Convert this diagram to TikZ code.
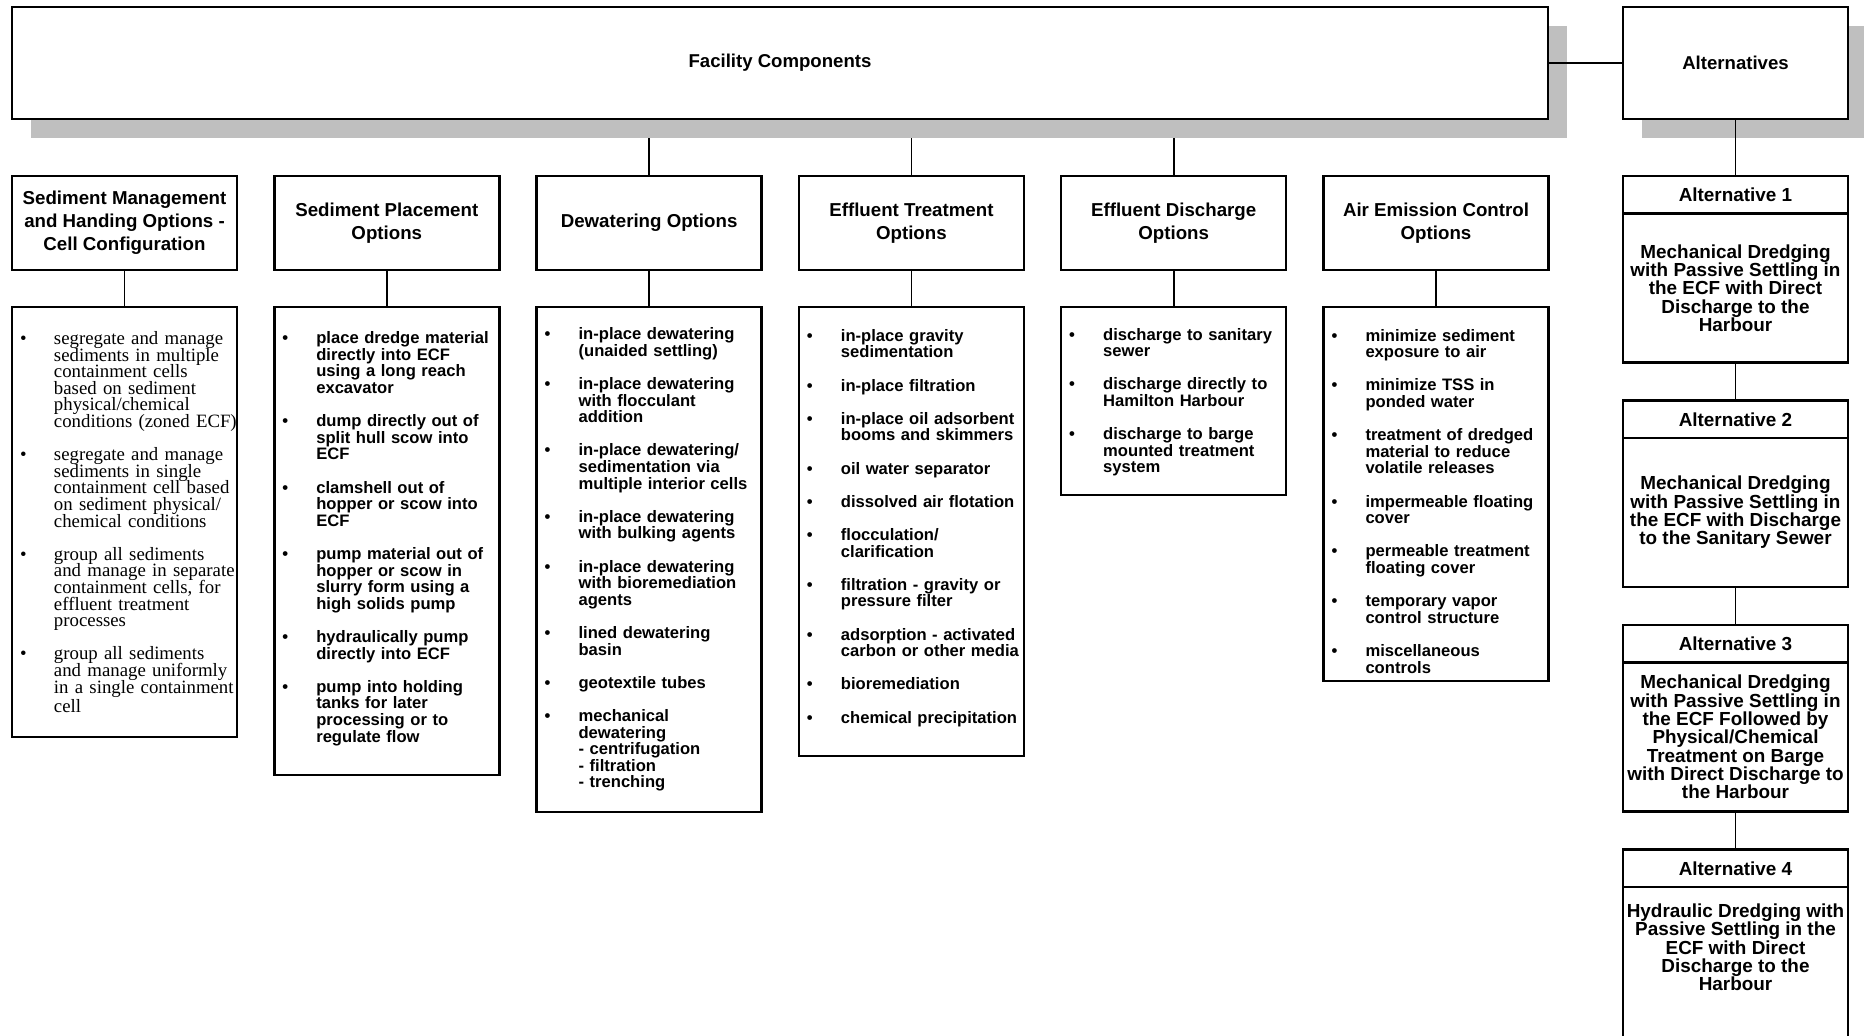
\documentclass[tikz,border=0pt]{standalone}
\usepackage{fontspec}
\setmainfont{Liberation Sans}
\newfontfamily\seriffam{Liberation Serif}
\usetikzlibrary{positioning,shadows,backgrounds}

\definecolor{shadowgrey}{gray}{0.75}

% one bulleted line, and a follow-on line of the same item
% (the lists keep a tight line pitch, so no extra lineskip)
\newcommand{\bopt}[1]{\lineskiplimit=-10pt\relax\makebox[17pt][l]{\textbullet}\mbox{#1}}
\newcommand{\cont}[1]{\hspace*{17pt}\mbox{#1}}
% extra room under a list, to move its text up (or down, if negative)
\newcommand{\gapbelow}[1]{\par\vspace{#1}\hrule height 0pt}

\begin{document}
\begin{tikzpicture}[
  x=0.5pt, y=-0.5pt,
  blk/.style={draw,line width=1.2pt,fill=white,outer sep=0pt},
  boxshadow/.style={drop shadow={shadow xshift=9.5pt,shadow yshift=-9.5pt,fill=shadowgrey,opacity=1}},
  mainbox/.style={blk,boxshadow,minimum height=56pt,inner sep=0pt,font=\bfseries\fontsize{9.3}{11}\selectfont},
  head/.style={blk,minimum width=112.5pt,minimum height=47pt,inner sep=1pt,align=center,font=\bfseries\fontsize{9.35}{11.4}\selectfont},
  opts/.style={blk,anchor=north,text width=104.5pt,inner xsep=4pt,inner ysep=2pt,align=left,font=\bfseries\fontsize{8.3}{8.3}\selectfont},
  althead/.style={blk,minimum width=112.5pt,minimum height=18.75pt,inner sep=0pt,font=\bfseries\fontsize{9.45}{9.15}\selectfont},
  altbody/.style={blk,minimum width=112.5pt,minimum height=74.5pt,inner sep=0pt,align=center,font=\bfseries\fontsize{9.45}{9.15}\selectfont},
  link/.style={line width=0.9pt}
]
  \useasboundingbox (0,0) rectangle (1864,1036);
  \clip (0,0) rectangle (1864,1036);

  % top row
  \node[mainbox, minimum width=768pt] (fac) at (780,63) {Facility Components};
  \node[mainbox, minimum width=112.5pt, right=37.5pt of fac] (alt) {Alternatives};

  % component headings
  \node[head, below right=28.5pt and 0pt of fac.south west] (hd1) {Sediment Management\\and Handing Options -\\Cell Configuration};
  \node[head, right=18.65pt of hd1] (hd2) {Sediment Placement\\Options};
  \node[head, right=18.65pt of hd2] (hd3) {Dewatering Options};
  \node[head, right=18.65pt of hd3] (hd4) {Effluent Treatment\\Options};
  \node[head, right=18.65pt of hd4] (hd5) {Effluent Discharge\\Options};
  \node[head, right=18.65pt of hd5] (hd6) {Air Emission Control\\Options};

  % option lists
  \node[opts, below=18.5pt of hd1, minimum height=215pt, font=\seriffam\fontsize{9.4}{8.3}\selectfont] (ls1) {%
    \bopt{segregate and manage}\\\cont{sediments in multiple}\\\cont{containment cells}\\\cont{based on sediment}\\\cont{physical/chemical}\\\cont{conditions (zoned ECF)}\\[8.3pt]
    \bopt{segregate and manage}\\\cont{sediments in single}\\\cont{containment cell based}\\\cont{on sediment physical/}\\\cont{chemical conditions}\\[8.3pt]
    \bopt{group all sediments}\\\cont{and manage in separate}\\\cont{containment cells, for}\\\cont{effluent treatment}\\\cont{processes}\\[8.3pt]
    \bopt{group all sediments}\\\cont{and manage uniformly}\\\cont{in a single containment}\\\cont{cell}};
  \node[opts, below=18.5pt of hd2, minimum height=234pt] (ls2) {%
    \bopt{place dredge material}\\\cont{directly into ECF}\\\cont{using a long reach}\\\cont{excavator}\\[8.3pt]
    \bopt{dump directly out of}\\\cont{split hull scow into}\\\cont{ECF}\\[8.3pt]
    \bopt{clamshell out of}\\\cont{hopper or scow into}\\\cont{ECF}\\[8.3pt]
    \bopt{pump material out of}\\\cont{hopper or scow in}\\\cont{slurry form using a}\\\cont{high solids pump}\\[8.3pt]
    \bopt{hydraulically pump}\\\cont{directly into ECF}\\[8.3pt]
    \bopt{pump into holding}\\\cont{tanks for later}\\\cont{processing or to}\\\cont{regulate flow}\gapbelow{2.4pt}};
  \node[opts, below=18.5pt of hd3, minimum height=252.5pt] (ls3) {%
    \bopt{in-place dewatering}\\\cont{(unaided settling)}\\[8.3pt]
    \bopt{in-place dewatering}\\\cont{with flocculant}\\\cont{addition}\\[8.3pt]
    \bopt{in-place dewatering/}\\\cont{sedimentation via}\\\cont{multiple interior cells}\\[8.3pt]
    \bopt{in-place dewatering}\\\cont{with bulking agents}\\[8.3pt]
    \bopt{in-place dewatering}\\\cont{with bioremediation}\\\cont{agents}\\[8.3pt]
    \bopt{lined dewatering}\\\cont{basin}\\[8.3pt]
    \bopt{geotextile tubes}\\[8.3pt]
    \bopt{mechanical}\\\cont{dewatering}\\\cont{- centrifugation}\\\cont{- filtration}\\\cont{- trenching}};
  \node[opts, below=18.5pt of hd4, minimum height=224.5pt] (ls4) {%
    \bopt{in-place gravity}\\\cont{sedimentation}\\[8.3pt]
    \bopt{in-place filtration}\\[8.3pt]
    \bopt{in-place oil adsorbent}\\\cont{booms and skimmers}\\[8.3pt]
    \bopt{oil water separator}\\[8.3pt]
    \bopt{dissolved air flotation}\\[8.3pt]
    \bopt{flocculation/}\\\cont{clarification}\\[8.3pt]
    \bopt{filtration - gravity or}\\\cont{pressure filter}\\[8.3pt]
    \bopt{adsorption - activated}\\\cont{carbon or other media}\\[8.3pt]
    \bopt{bioremediation}\\[8.3pt]
    \bopt{chemical precipitation}\gapbelow{3.6pt}};
  \node[opts, below=18.5pt of hd5, minimum height=94pt] (ls5) {%
    \bopt{discharge to sanitary}\\\cont{sewer}\\[8.3pt]
    \bopt{discharge directly to}\\\cont{Hamilton Harbour}\\[8.3pt]
    \bopt{discharge to barge}\\\cont{mounted treatment}\\\cont{system}\gapbelow{-1.2pt}};
  \node[opts, below=18.5pt of hd6, minimum height=187pt] (ls6) {%
    \bopt{minimize sediment}\\\cont{exposure to air}\\[8.3pt]
    \bopt{minimize TSS in}\\\cont{ponded water}\\[8.3pt]
    \bopt{treatment of dredged}\\\cont{material to reduce}\\\cont{volatile releases}\\[8.3pt]
    \bopt{impermeable floating}\\\cont{cover}\\[8.3pt]
    \bopt{permeable treatment}\\\cont{floating cover}\\[8.3pt]
    \bopt{temporary vapor}\\\cont{control structure}\\[8.3pt]
    \bopt{miscellaneous}\\\cont{controls}\gapbelow{-7.2pt}};

  % alternatives column
  \node[althead, below=28.5pt of alt] (a1) {Alternative 1};
  \node[altbody, below=0pt of a1] (a1t) {Mechanical Dredging\\with Passive Settling in\\the ECF with Direct\\Discharge to the\\Harbour};
  \node[althead, below=19pt of a1t] (a2) {Alternative 2};
  \node[altbody, below=0pt of a2] (a2t) {Mechanical Dredging\\with Passive Settling in\\the ECF with Discharge\\to the Sanitary Sewer};
  \node[althead, below=19pt of a2t] (a3) {Alternative 3};
  \node[altbody, below=0pt of a3] (a3t) {Mechanical Dredging\\with Passive Settling in\\the ECF Followed by\\Physical/Chemical\\Treatment on Barge\\with Direct Discharge to\\the Harbour};
  \node[althead, below=19pt of a3t] (a4) {Alternative 4};
  \node[altbody, below=0pt of a4, minimum height=80pt] (a4t) {Hydraulic Dredging with\\Passive Settling in the\\ECF with Direct\\Discharge to the\\Harbour\\[10.5pt]};

  % connectors
  \begin{scope}[on background layer]
    \foreach \i in {3,4,5}
      \draw[link] (hd\i.north) -- (hd\i.north |- fac.south);
  \end{scope}
  \foreach \i in {1,...,6}
    \draw[link] (hd\i) -- (ls\i);
  \draw[link] (fac) -- (alt);
  \draw[link] (alt) -- (a1);
  \draw[link] (a1t) -- (a2);
  \draw[link] (a2t) -- (a3);
  \draw[link] (a3t) -- (a4);
\end{tikzpicture}
\end{document}
